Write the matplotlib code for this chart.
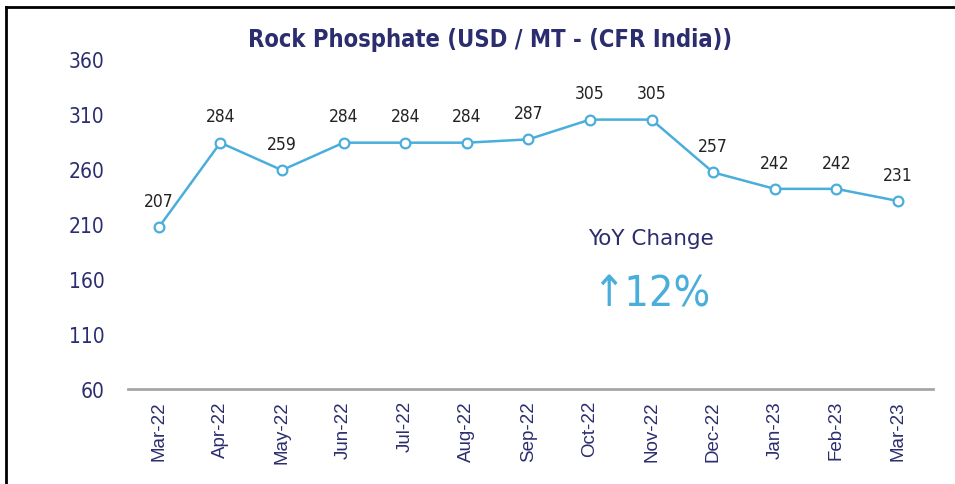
import matplotlib
matplotlib.use("Agg")
import matplotlib.pyplot as plt
from matplotlib.lines import Line2D

# ── data ───────────────────────────────────────────────────────────────────────
MONTHS = ["Mar-22", "Apr-22", "May-22", "Jun-22", "Jul-22", "Aug-22", "Sep-22",
          "Oct-22", "Nov-22", "Dec-22", "Jan-23", "Feb-23", "Mar-23"]
PRICES = [207, 284, 259, 284, 284, 284, 287, 305, 305, 257, 242, 242, 231]
Y_TICKS = [60, 110, 160, 210, 260, 310, 360]
TITLE = "Rock Phosphate (USD / MT - (CFR India))"
YOY_LABEL = "YoY Change"
YOY_VALUE = "\u219112%"

# ── style ──────────────────────────────────────────────────────────────────────
NAVY = "#2b2d6e"
BLUE = "#4aaedb"
FONT = "DejaVu Sans"
COND = "condensed"

fig = plt.figure(figsize=(9.55, 4.85), dpi=100)
ax = fig.add_axes([0.134, 0.196, 0.843, 0.680])

x = list(range(len(MONTHS)))
ax.plot(x, PRICES, color=BLUE, lw=1.8, marker="o", ms=7,
        mfc="white", mec=BLUE, mew=1.6, zorder=3)
for xi, v in zip(x, PRICES):
    ax.annotate(str(v), (xi, v), xytext=(0, 12.5), textcoords="offset points",
                ha="center", va="bottom", fontsize=12.5, color="#222222",
                family=FONT, fontstretch=COND)

ax.set_xlim(-0.5, 12.57)
ax.set_ylim(60, 360)
ax.set_yticks(Y_TICKS)
ax.set_yticklabels([str(t) for t in Y_TICKS], family=FONT, fontstretch=COND,
                   fontsize=15, color=NAVY)
ax.set_xticks(x)
ax.set_xticklabels(MONTHS, rotation=90, fontsize=13.5, color=NAVY,
                   family="Liberation Sans")
ax.tick_params(axis="both", length=0)
ax.tick_params(axis="y", pad=17)
ax.tick_params(axis="x", pad=8)
for side in ("top", "right", "left"):
    ax.spines[side].set_visible(False)
ax.spines["bottom"].set_color("#a6a6a6")
ax.spines["bottom"].set_linewidth(2)

fig.text(0.513, 0.918, TITLE, ha="center", va="center", fontsize=17,
         fontweight="bold", color=NAVY, family=FONT, fontstretch=COND)
fig.text(0.682, 0.507, YOY_LABEL, ha="center", va="center", fontsize=15.5,
         color=NAVY, family=FONT)
fig.text(0.682, 0.392, YOY_VALUE, ha="center", va="center", fontsize=31,
         color=BLUE, family=FONT, fontstretch=COND)

# frame around the panel
fig.add_artist(Line2D([0.006, 0.006], [0.0, 0.984], transform=fig.transFigure,
                      color="black", lw=2))
fig.add_artist(Line2D([0.006, 1.0], [0.984, 0.984], transform=fig.transFigure,
                      color="black", lw=2))

fig.savefig("out.png", dpi=100)
